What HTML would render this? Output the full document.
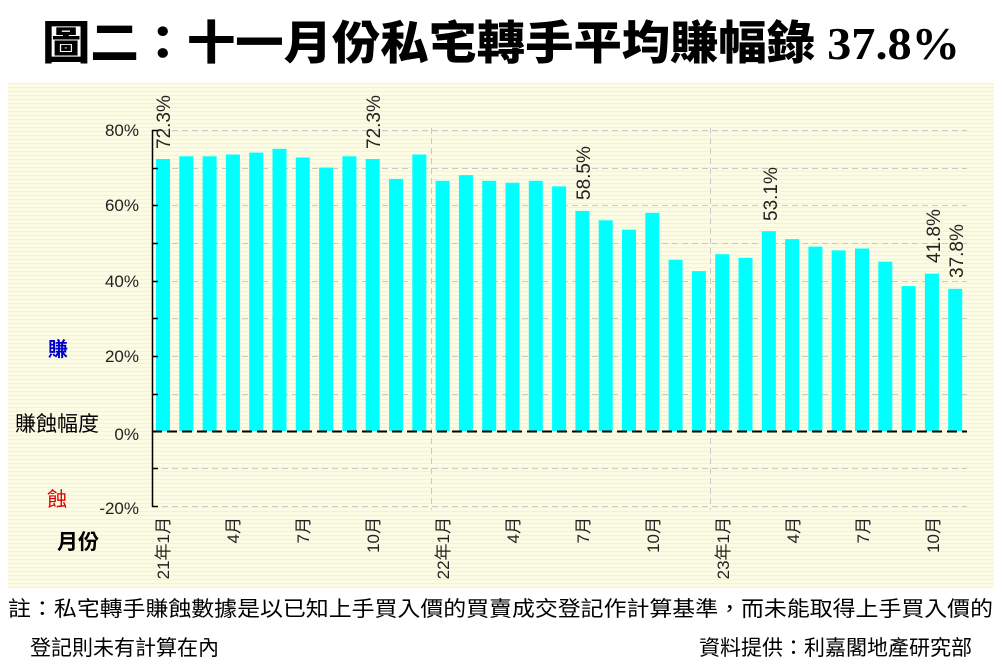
<!DOCTYPE html>
<html><head><meta charset="utf-8"><style>
html,body{margin:0;padding:0;background:#fff;}
svg{display:block;font-family:"Liberation Sans","Noto Sans CJK TC",sans-serif;}
</style></head><body>
<svg width="1004" height="668" viewBox="0 0 1004 668" xmlns="http://www.w3.org/2000/svg">
<defs>
<pattern id="st" width="4" height="4" patternUnits="userSpaceOnUse">
<rect width="4" height="4" fill="#fcfbe3"/><rect y="3" width="4" height="1" fill="#f4f2d6"/>
</pattern>
</defs>
<text x="42" y="59" font-size="46" font-weight="900" font-family="'Liberation Serif','Noto Sans CJK TC',sans-serif" textLength="918" lengthAdjust="spacingAndGlyphs">圖二：十一月份私宅轉手平均賺幅錄 37.8%</text>
<rect x="8" y="83" width="986" height="505" fill="url(#st)"/>
<g stroke="#c8c8c8" stroke-dasharray="6,4" stroke-width="1">
<line x1="152" x2="967" y1="130.5" y2="130.5"/>
<line x1="152" x2="967" y1="168.5" y2="168.5"/>
<line x1="152" x2="967" y1="205.5" y2="205.5"/>
<line x1="152" x2="967" y1="243.5" y2="243.5"/>
<line x1="152" x2="967" y1="281.5" y2="281.5"/>
<line x1="152" x2="967" y1="318.5" y2="318.5"/>
<line x1="152" x2="967" y1="356.5" y2="356.5"/>
<line x1="152" x2="967" y1="394.5" y2="394.5"/>
<line x1="152" x2="967" y1="468.5" y2="468.5"/>
<line x1="152" x2="967" y1="506.5" y2="506.5"/>
<line x1="431.5" x2="431.5" y1="128" y2="510"/>
<line x1="710.5" x2="710.5" y1="128" y2="510"/>
</g>
<g fill="#00ffff">
<rect x="156" y="159" width="14" height="272"/>
<rect x="179.3" y="156.3" width="14" height="274.7"/>
<rect x="202.6" y="156.3" width="14" height="274.7"/>
<rect x="225.9" y="154.5" width="14" height="276.5"/>
<rect x="249.2" y="152.6" width="14" height="278.4"/>
<rect x="272.5" y="148.8" width="14" height="282.2"/>
<rect x="295.8" y="157.5" width="14" height="273.5"/>
<rect x="319.1" y="167.6" width="14" height="263.4"/>
<rect x="342.4" y="156.3" width="14" height="274.7"/>
<rect x="365.7" y="159" width="14" height="272"/>
<rect x="389" y="178.9" width="14" height="252.1"/>
<rect x="412.3" y="154.5" width="14" height="276.5"/>
<rect x="435.6" y="180.8" width="14" height="250.2"/>
<rect x="458.9" y="175.1" width="14" height="255.9"/>
<rect x="482.2" y="180.8" width="14" height="250.2"/>
<rect x="505.5" y="182.7" width="14" height="248.3"/>
<rect x="528.8" y="180.8" width="14" height="250.2"/>
<rect x="552.1" y="186.4" width="14" height="244.6"/>
<rect x="575.4" y="210.9" width="14" height="220.1"/>
<rect x="598.7" y="220.3" width="14" height="210.7"/>
<rect x="622" y="229.7" width="14" height="201.3"/>
<rect x="645.3" y="212.8" width="14" height="218.2"/>
<rect x="668.6" y="259.8" width="14" height="171.2"/>
<rect x="691.9" y="271.1" width="14" height="159.9"/>
<rect x="715.2" y="254.2" width="14" height="176.8"/>
<rect x="738.5" y="257.9" width="14" height="173.1"/>
<rect x="761.8" y="231.2" width="14" height="199.8"/>
<rect x="785.1" y="239.1" width="14" height="191.9"/>
<rect x="808.4" y="246.6" width="14" height="184.4"/>
<rect x="831.7" y="250.4" width="14" height="180.6"/>
<rect x="855" y="248.5" width="14" height="182.5"/>
<rect x="878.3" y="261.7" width="14" height="169.3"/>
<rect x="901.6" y="286.1" width="14" height="144.9"/>
<rect x="924.9" y="273.7" width="14" height="157.3"/>
<rect x="948.2" y="288.8" width="14" height="142.2"/>
</g>
<line x1="152" x2="967" y1="431.5" y2="431.5" stroke="#000" stroke-width="2" stroke-dasharray="10,5"/>
<g stroke="#000" stroke-width="1.5">
<line x1="152.5" x2="152.5" y1="130" y2="507"/>
<line x1="152" x2="158" y1="130.5" y2="130.5"/>
<line x1="152" x2="158" y1="168.5" y2="168.5"/>
<line x1="152" x2="158" y1="205.5" y2="205.5"/>
<line x1="152" x2="158" y1="243.5" y2="243.5"/>
<line x1="152" x2="158" y1="281.5" y2="281.5"/>
<line x1="152" x2="158" y1="318.5" y2="318.5"/>
<line x1="152" x2="158" y1="356.5" y2="356.5"/>
<line x1="152" x2="158" y1="394.5" y2="394.5"/>
<line x1="152" x2="158" y1="468.5" y2="468.5"/>
<line x1="152" x2="158" y1="506.5" y2="506.5"/>
</g>
<g font-size="17" text-anchor="end" fill="#222">
<text x="139" y="136">80%</text>
<text x="139" y="211">60%</text>
<text x="139" y="287">40%</text>
<text x="139" y="362">20%</text>
<text x="139" y="440">0%</text>
<text x="139" y="514">-20%</text>
</g>
<text x="48" y="356" font-size="20" fill="#0000cc" font-weight="bold">賺</text>
<text x="15" y="431" font-size="21" fill="#000">賺蝕幅度</text>
<text x="47" y="506" font-size="20" fill="#e00000">蝕</text>
<text x="57" y="549" font-size="21" font-weight="bold" fill="#000">月份</text>
<g font-size="19" fill="#222">
<text transform="translate(170,149) rotate(-90)">72.3%</text>
<text transform="translate(380,149) rotate(-90)">72.3%</text>
<text transform="translate(590,200) rotate(-90)">58.5%</text>
<text transform="translate(777,221) rotate(-90)">53.1%</text>
<text transform="translate(940,263) rotate(-90)">41.8%</text>
<text transform="translate(963,278) rotate(-90)">37.8%</text>
</g>
<g font-size="17" fill="#222" text-anchor="end">
<text transform="translate(169,517) rotate(-90)">21年1月</text>
<text transform="translate(239,517) rotate(-90)">4月</text>
<text transform="translate(309,517) rotate(-90)">7月</text>
<text transform="translate(379,517) rotate(-90)">10月</text>
<text transform="translate(449,517) rotate(-90)">22年1月</text>
<text transform="translate(519,517) rotate(-90)">4月</text>
<text transform="translate(589,517) rotate(-90)">7月</text>
<text transform="translate(659,517) rotate(-90)">10月</text>
<text transform="translate(729,517) rotate(-90)">23年1月</text>
<text transform="translate(799,517) rotate(-90)">4月</text>
<text transform="translate(869,517) rotate(-90)">7月</text>
<text transform="translate(939,517) rotate(-90)">10月</text>
</g>
<text x="8" y="616" font-size="21" fill="#000" textLength="985" lengthAdjust="spacingAndGlyphs">註：私宅轉手賺蝕數據是以已知上手買入價的買賣成交登記作計算基準，而未能取得上手買入價的</text>
<text x="30" y="655" font-size="21" fill="#000">登記則未有計算在內</text>
<text x="972" y="655" font-size="21" fill="#000" text-anchor="end">資料提供：利嘉閣地產研究部</text>
</svg>
</body></html>
